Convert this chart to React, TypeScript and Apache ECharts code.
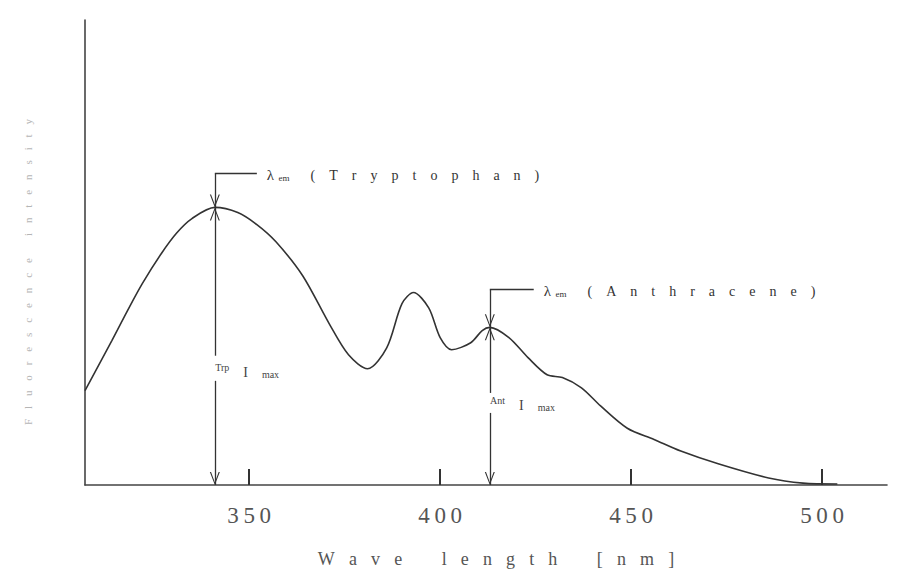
import React, { useEffect, useRef } from "react";
import * as echarts from "echarts";

// Emission spectrum (wavelength in nm, relative fluorescence intensity)
const wavelengths = [307, 314, 318, 322, 327, 331, 335, 341, 347, 352, 357, 364, 371, 376, 381, 386, 390, 393, 397, 400, 403, 408, 411, 413, 418, 423, 428, 432, 437, 442, 449, 456, 463, 473, 486, 495, 504];
const intensity = [20.3, 31.0, 37.3, 43.3, 49.8, 54.2, 57.3, 59.7, 58.6, 56.0, 52.3, 45.0, 34.6, 28.0, 25.0, 29.5, 39.0, 41.4, 38.1, 31.7, 29.1, 30.6, 33.2, 33.9, 31.7, 27.4, 23.7, 23.1, 20.9, 17.0, 12.2, 9.8, 7.3, 4.5, 1.5, 0.4, 0.2];

const tickValues = [350, 400, 450, 500];
const xTitle = "Wave length [nm]";
const yTitle = "Fluorescence intensity";

// annotation anchors: [wavelength, peak, bracketLevel, bracketEnd, labelGapLow, labelGapHigh, labelLevel]
const trpMarker = [341, 59.7, 67.0, 352, 22.4, 27.8, 24.4];
const antMarker = [413, 33.9, 42.0, 424.5, 15.5, 19.8, 17.3];
const trpName = "Tryptophan";
const antName = "Anthracene";

const ARROW = "path://M5,0 L10,10 L8.8,10 L5,2.2 L1.2,10 L0,10 Z M5,-10 L5.05,-10 L5,-9.95 Z";
const SERIF = "'Liberation Serif', 'DejaVu Serif', serif";

function spaced(s: string, sep: string, wordSep: string) {
  return s
    .split(" ")
    .map((w) => w.split("").join(sep))
    .join(wordSep);
}

function bracketLines(m: number[], name: string, lead: string, sep: string) {
  const [x, peak, lvl, end, gLo, gHi] = m;
  const label = {
    show: true,
    position: "end",
    distance: 10,
    formatter: "{l|λ}{s|\u2002em}{t|" + lead + spaced("(" + name + ")", sep, sep) + "}",
    rich: {
      l: { fontFamily: SERIF, fontSize: 15, color: "#333", verticalAlign: "bottom", lineHeight: 18 },
      s: { fontFamily: SERIF, fontSize: 9, color: "#333", verticalAlign: "bottom", lineHeight: 14 },
      t: { fontFamily: SERIF, fontSize: 14, color: "#333", verticalAlign: "bottom", lineHeight: 18 },
    },
  };
  return [
    [
      { coord: [x, lvl], symbol: "none", label },
      { coord: [end, lvl], symbol: "none" },
    ],
    [
      { coord: [x, lvl], symbol: "none" },
      { coord: [x, peak], symbol: ARROW },
    ],
    [
      { coord: [x, gHi], symbol: "none" },
      { coord: [x, peak], symbol: ARROW },
    ],
    [
      { coord: [x, gLo], symbol: "none" },
      { coord: [x, 0], symbol: ARROW },
    ],
  ];
}

function maxLabel(m: number[], sup: string) {
  return {
    coord: [m[0], m[6]],
    symbolSize: 1,
    itemStyle: { color: "transparent" },
    label: {
      show: true,
      position: "right",
      distance: 0,
      formatter: "{a|" + sup + "}{b|\u2003I\u2003}{c|max}",
      rich: {
        a: { fontFamily: SERIF, fontSize: 10, color: "#444", verticalAlign: "bottom", padding: [0, 0, 7, 0] },
        b: { fontFamily: SERIF, fontSize: 14, color: "#444", verticalAlign: "bottom" },
        c: { fontFamily: SERIF, fontSize: 10, color: "#444", verticalAlign: "bottom" },
      },
    },
  };
}

export default function App() {
  const ref = useRef<HTMLDivElement>(null);
  useEffect(() => {
    document.body.style.margin = "0";
    if (!ref.current) return;
    const chart = echarts.init(ref.current, null, { renderer: "svg" });
    const data = wavelengths.map((w, i) => [w, intensity[i]]);
    chart.setOption({
      animation: false,
      backgroundColor: "#ffffff",
      grid: { left: 85, right: 22, top: 20, bottom: 89, outerBoundsMode: "none" },
      xAxis: {
        type: "value",
        min: 307,
        max: 517,
        name: spaced(xTitle, "\u2002\u2009\u200a", "\u2003\u2003\u2009"),
        nameLocation: "middle",
        nameGap: 65,
        nameTextStyle: { fontFamily: SERIF, fontSize: 18, color: "#555", padding: [0, 0, 0, 20] },
        axisLine: { show: true, lineStyle: { color: "#444", width: 1.6 } },
        axisTick: { show: true, inside: true, length: 16, customValues: tickValues, lineStyle: { color: "#333", width: 2 } },
        axisLabel: {
          show: true,
          customValues: tickValues,
          margin: 19,
          fontFamily: SERIF,
          fontSize: 23,
          color: "#555",
          formatter: (v: number) => String(v).split("").join("\u2009"),
        },
        splitLine: { show: false },
      },
      yAxis: {
        type: "value",
        min: 0,
        max: 100,
        axisLine: { show: true, lineStyle: { color: "#444", width: 1.6 } },
        axisTick: { show: false },
        axisLabel: { show: false },
        splitLine: { show: false },
      },
      graphic: [
        {
          type: "text",
          x: 28,
          y: 272,
          rotation: Math.PI / 2,
          style: {
            text: spaced(yTitle, "\u2002\u2009\u2009", "\u2003\u2003"),
            fontFamily: SERIF,
            fontSize: 11,
            fill: "#b5b5b5",
            align: "center",
            verticalAlign: "middle",
          },
        },
      ],
      series: [
        {
          type: "line",
          data,
          smooth: 0.3,
          showSymbol: false,
          symbol: "none",
          lineStyle: { color: "#333", width: 1.6 },
          silent: true,
          markLine: {
            silent: true,
            symbolSize: [10, 26],
            label: { show: false },
            lineStyle: { color: "#333", width: 1.3, type: "solid" },
            emphasis: { disabled: true },
            data: [
              ...bracketLines(trpMarker, trpName, "\u2003\u2002", "\u2003"),
              ...bracketLines(antMarker, antName, "\u2003\u2002", "\u2003"),
            ],
          },
          markPoint: {
            silent: true,
            data: [maxLabel(trpMarker, "Trp"), maxLabel(antMarker, "Ant")],
          },
        },
      ],
    });
    return () => chart.dispose();
  }, []);
  return <div ref={ref} style={{ width: 909, height: 574 }} />;
}
